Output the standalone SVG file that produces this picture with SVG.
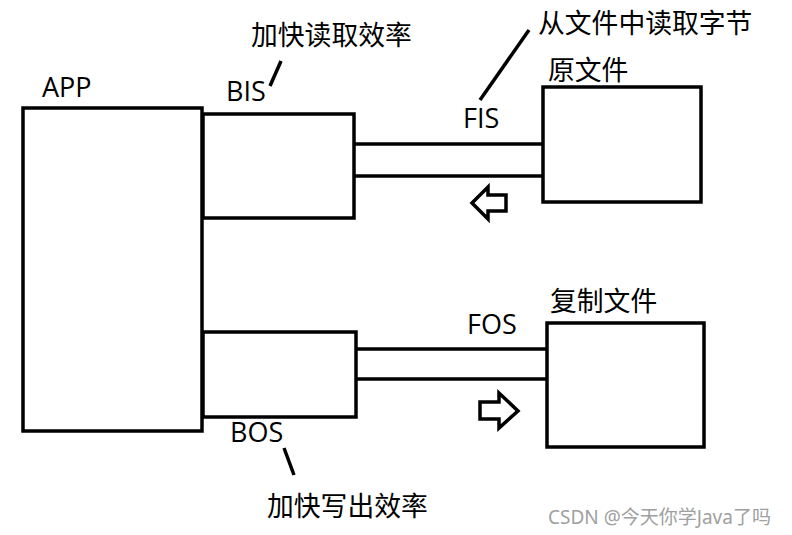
<svg xmlns="http://www.w3.org/2000/svg" width="792" height="535" viewBox="0 0 792 535">
<style>
.box{fill:#fff;stroke:#000;stroke-width:3.5}
.ln{fill:none;stroke:#000;stroke-width:3.5}
.tl{font-family:"Open Sans","Liberation Sans",sans-serif;font-size:27px;fill:#000}
.tc{font-family:"Noto Sans CJK SC","Noto Sans",sans-serif;font-size:26.8px;fill:#000}
.wm{font-family:"Noto Sans","Noto Sans CJK SC",sans-serif;font-size:19px;fill:#a0a0a0}
</style>
<rect width="792" height="535" fill="#fff"/>
<g id="connectors">
<line class="ln" x1="354" y1="144" x2="543" y2="144"/>
<line class="ln" x1="354" y1="176" x2="543" y2="176"/>
<line class="ln" x1="356" y1="349" x2="547" y2="349"/>
<line class="ln" x1="356" y1="379" x2="547" y2="379"/>
<path class="ln" d="M506,195 L488,195 L488,187 L472,203 L488,219 L488,211 L506,211 Z" stroke-width="3"/>
<path class="ln" d="M480,402 L499,402 L499,393 L518,411 L499,428 L499,419 L480,419 Z" stroke-width="3"/>
<line class="ln" x1="270" y1="86" x2="281" y2="61" stroke-width="3"/>
<line class="ln" x1="480" y1="100" x2="529" y2="30" stroke-width="3"/>
<line class="ln" x1="284" y1="448" x2="294" y2="475" stroke-width="3"/>
</g>
<g id="app">
<rect class="box" x="23" y="108" width="179" height="323"/>
<text class="tl" x="42" y="97">APP</text>
</g>
<g id="bis">
<rect class="box" x="203" y="114" width="151" height="104"/>
<text class="tl" x="226" y="101">BIS</text>
<text class="tc" x="251" y="45">加快读取效率</text>
</g>
<g id="fis">
<text class="tl" x="463" y="128">FIS</text>
<text class="tc" x="538" y="33">从文件中读取字节</text>
</g>
<g id="source">
<rect class="box" x="543" y="87" width="158" height="115"/>
<text class="tc" x="548" y="80">原文件</text>
</g>
<g id="bos">
<rect class="box" x="203" y="332" width="153" height="85"/>
<text class="tl" x="230" y="442">BOS</text>
<text class="tc" x="267" y="516">加快写出效率</text>
</g>
<g id="fos">
<text class="tl" x="467" y="334">FOS</text>
</g>
<g id="copy">
<rect class="box" x="547" y="323" width="157" height="124"/>
<text class="tc" x="550" y="311">复制文件</text>
</g>
<text class="wm" x="548" y="524">CSDN @今天你学Java了吗</text>
</svg>
